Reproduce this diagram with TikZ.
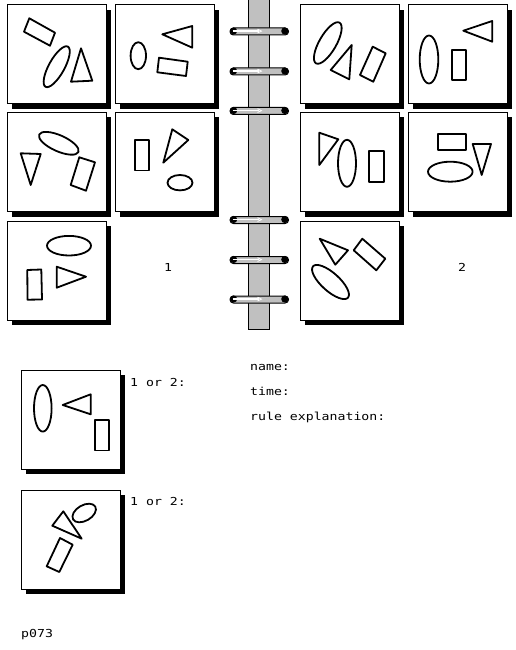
\documentclass[tikz,border=0pt]{standalone}
\usepackage{fontspec}
\newfontfamily\monofont[FakeStretch=1.2]{DejaVu Sans Mono}
\definecolor{spinegray}{HTML}{C0C0C0}
\tikzset{
  shp/.style={draw=black, line width=1.8pt, line join=round},
  framebox/.style={draw=black, line width=1pt, fill=white},
  lbl/.style={font=\monofont\fontsize{11}{13}\selectfont, inner sep=0pt, anchor=base west},
}
\newcommand{\bpanel}[2]{%
  \fill[black] (#1+5,#2+5) rectangle (#1+104,#2+104);
  \draw[framebox] (#1,#2) rectangle (#1+99,#2+99);
}
\newcommand{\bring}[1]{%
  \draw[fill=spinegray, line width=1pt, rounded corners=3.4pt] (230,#1-3.5) rectangle (288.5,#1+3.5);
  \fill[black] (233.6,#1-0.5) circle (3.6pt);
  \fill[black] (284.8,#1-0.5) circle (3.6pt);
  \draw[white, line width=1.4pt] (232.5,#1-0.4) -- (258.5,#1-0.4);
  \draw[white, line width=0.8pt] (257.5,#1-2.3) -- (261.5,#1-0.4) -- (257.5,#1+1.5);
}
\begin{document}
\begin{tikzpicture}[x=1pt,y=-1pt]
\useasboundingbox[fill=white] (0,0) rectangle (516,650);
% spine
\draw[fill=spinegray, line width=1pt] (248,-3) rectangle (269,329.5);
\foreach \c in {31.5,71.5,111,220,260,299.5} {\bring{\c}}
% panels
\bpanel{7}{5}
\bpanel{115}{5}
\bpanel{7}{112.5}
\bpanel{115}{112.5}
\bpanel{7}{221}
\bpanel{300}{5}
\bpanel{408}{5}
\bpanel{300}{112.5}
\bpanel{408}{112.5}
\bpanel{300}{221}
\bpanel{21}{370}
\bpanel{21}{490}
% Panel A
\draw[shp] (29.3,18.3) -- (55,32.7) -- (50,45.7) -- (24,31.7) -- cycle;
\draw[shp, rotate around={61:(56.7,66.7)}] (56.7,66.7) ellipse [x radius=23pt, y radius=7.8pt];
\draw[shp] (81,48.3) -- (71,81.7) -- (92.3,80.7) -- cycle;
% Panel B
\draw[shp] (138.3,55.7) ellipse [x radius=7.7pt, y radius=13.5pt];
\draw[shp] (162.3,34.3) -- (192.3,26) -- (192.3,47.7) -- cycle;
\draw[shp] (159,57.7) -- (187.7,61.7) -- (186,76) -- (157.3,72.3) -- cycle;
% Panel C
\draw[shp, rotate around={-24:(58.8,143.3)}] (58.8,143.3) ellipse [x radius=21.5pt, y radius=8pt];
\draw[shp] (20.7,153.3) -- (40.7,154) -- (30.7,185) -- cycle;
\draw[shp] (79.3,157.3) -- (95,162.3) -- (86,190.7) -- (70.7,185) -- cycle;
% Panel D
\draw[shp] (135,140) rectangle (148.7,170.5);
\draw[shp] (172.3,129.3) -- (188.3,140) -- (163.3,162.7) -- cycle;
\draw[shp] (180,182.7) ellipse [x radius=12.5pt, y radius=7.7pt];
% Panel E
\draw[shp] (69,245.7) ellipse [x radius=22pt, y radius=9.8pt];
\draw[shp] (27.3,270) -- (41.3,269.5) -- (42,299.5) -- (27.5,299.7) -- cycle;
\draw[shp] (56.7,266.7) -- (86,276.7) -- (56.7,287.7) -- cycle;
% Panel F
\draw[shp, rotate around={60:(327.8,43)}] (327.8,43) ellipse [x radius=23.5pt, y radius=8.5pt];
\draw[shp] (351.7,45) -- (349.3,79.3) -- (330.7,70) -- cycle;
\draw[shp] (372.7,46.7) -- (385.7,53.3) -- (373.3,81.7) -- (360,75) -- cycle;
% Panel G
\draw[shp] (429,59.5) ellipse [x radius=9.3pt, y radius=24pt];
\draw[shp] (452,50) rectangle (466.3,80.3);
\draw[shp] (463.3,30.7) -- (492.3,21) -- (492.3,41.7) -- cycle;
% Panel H
\draw[shp] (319.3,132.7) -- (338.3,139.3) -- (319.3,165) -- cycle;
\draw[shp] (347,163.3) ellipse [x radius=9pt, y radius=23.5pt];
\draw[shp] (369,151) rectangle (384,182);
% Panel I
\draw[shp] (437.7,133.7) rectangle (466.3,149.7);
\draw[shp] (472.7,144) -- (491,144) -- (481.7,175) -- cycle;
\draw[shp] (450.3,171.7) ellipse [x radius=22.3pt, y radius=10pt];
% Panel J
\draw[shp] (319.7,238.7) -- (348,250.3) -- (335.3,264.7) -- cycle;
\draw[shp] (362.3,238.7) -- (385.3,258.7) -- (376.3,270.3) -- (353.7,250.3) -- cycle;
\draw[shp, rotate around={-42:(330.5,282)}] (330.5,282) ellipse [x radius=23.5pt, y radius=9pt];
% Test K
\draw[shp] (42.8,408.3) ellipse [x radius=8.8pt, y radius=23.3pt];
\draw[shp] (62.7,405) -- (90.7,394.3) -- (90.7,414.3) -- cycle;
\draw[shp] (95,420) rectangle (108.7,450.5);
% Test L
\draw[shp] (52.3,525.7) -- (63.3,511.3) -- (81.7,538.7) -- cycle;
\draw[shp, rotate around={30:(84.2,513)}] (84.2,513) ellipse [x radius=12.8pt, y radius=7.8pt];
\draw[shp] (60,538) -- (72.7,544.7) -- (59.3,572) -- (46.7,566.3) -- cycle;
% labels
\node[lbl, anchor=base] (l1) at (168,271) {1};
\node[lbl, anchor=base] (l2) at (462,271) {2};
\node[lbl] (q1) at (130,386) {1 or 2:};
\node[lbl] (q2) at (130,505) {1 or 2:};
\node[lbl] (nm) at (250,370.5) {name:};
\node[lbl] (tm) at (250,395) {time:};
\node[lbl] (re) at (250,420.5) {rule explanation:};
\node[lbl] (pid) at (21,637.5) {p073};
\end{tikzpicture}
\end{document}
